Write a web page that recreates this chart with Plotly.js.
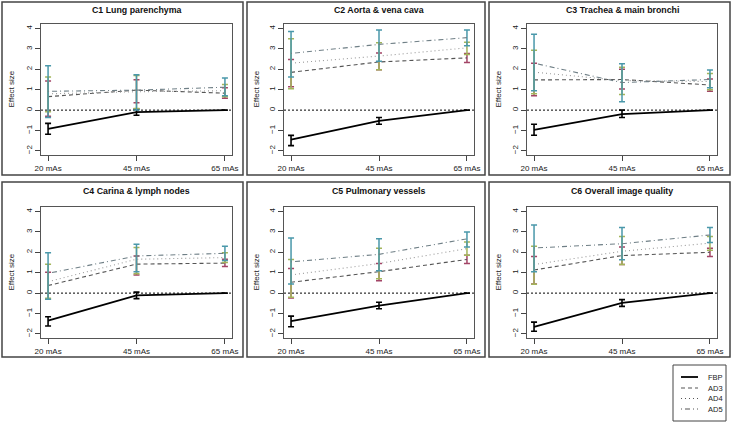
<!DOCTYPE html>
<html>
<head>
<meta charset="utf-8">
<script src="https://cdn.plot.ly/plotly-3.0.1.min.js"></script>
<style>html,body{margin:0;padding:0;background:#fff;}#chart{width:732px;height:424px;}</style>
</head>
<body>
<div id="chart"></div>
<script>
// ---- data ----
var panelTitles = ["C1 Lung parenchyma", "C2 Aorta & vena cava", "C3 Trachea & main bronchi",
                   "C4 Carina & lymph nodes", "C5 Pulmonary vessels", "C6 Overall image quality"];
var doseLabels = ["20 mAs", "45 mAs", "65 mAs"];
var seriesNames = ["FBP", "AD3", "AD4", "AD5"];
var yTicks = [-2, -1, 0, 1, 2, 3, 4];

var fbpMean = [[-0.92,-0.10,0],[-1.45,-0.53,0],[-0.97,-0.20,0],[-1.35,-0.11,0],[-1.37,-0.61,0],[-1.66,-0.48,0]];
var fbpLow  = [[-1.18,-0.25,null],[-1.74,-0.69,null],[-1.23,-0.36,null],[-1.61,-0.27,null],[-1.65,-0.77,null],[-1.87,-0.65,null]];
var fbpHigh = [[-0.65,0.05,null],[-1.24,-0.36,null],[-0.69,0.00,null],[-1.16,0.05,null],[-1.13,-0.45,null],[-1.42,-0.32,null]];

var ad3Mean = [[0.66,0.98,0.83],[1.85,2.36,2.56],[1.48,1.50,1.23],[0.37,1.42,1.47],[0.53,1.05,1.65],[1.13,1.84,2.00]];
var ad3Low  = [[-0.30,0.36,0.58],[1.15,1.98,2.33],[0.70,1.04,0.92],[-0.30,0.89,1.30],[-0.24,0.60,1.45],[0.45,1.40,1.80]];
var ad3High = [[1.43,1.49,1.10],[2.48,2.80,2.78],[2.30,2.00,1.53],[1.02,1.82,1.66],[1.20,1.45,1.85],[1.80,2.26,2.20]];

var ad4Mean = [[0.80,0.90,0.95],[2.30,2.65,3.05],[1.86,1.45,1.40],[0.56,1.66,1.74],[0.89,1.45,2.18],[1.40,2.05,2.45]];
var ad4Low  = [[-0.08,0.08,0.66],[1.05,1.98,2.73],[0.80,0.76,1.00],[-0.25,0.95,1.50],[-0.20,0.70,1.85],[0.44,1.40,2.10]];
var ad4High = [[1.62,1.70,1.25],[3.50,3.30,3.33],[2.93,2.10,1.80],[1.42,2.23,1.98],[1.65,2.20,2.50],[2.30,2.77,2.77]];

var ad5Mean = [[0.92,0.98,1.12],[2.78,3.22,3.55],[2.30,1.35,1.50],[0.97,1.82,1.95],[1.53,1.90,2.66],[2.21,2.42,2.85]];
var ad5Low  = [[-0.36,0.00,0.70],[1.62,2.40,3.15],[0.95,0.41,1.10],[-0.30,1.05,1.60],[0.45,1.10,2.26],[1.05,1.64,2.48]];
var ad5High = [[2.18,1.73,1.57],[3.85,3.93,3.93],[3.72,2.27,1.97],[1.98,2.40,2.30],[2.70,2.66,3.00],[3.34,3.22,3.22]];

// ---- styling ----
var W = 732, H = 424;
var colPx = [[41,232],[284,474],[527,717]];
var rowPx = [[24,155],[207,338]];
var boxColPx = [[2,243],[247,485],[489,730]];
var boxRowPx = [[2,175],[182,357]];
var titleY = [10, 191];

var styles = [
  {mean: fbpMean, low: fbpLow, high: fbpHigh, line: {color:'#000000', width:1.8, dash:'solid'}, err:'#000000'},
  {mean: ad3Mean, low: ad3Low, high: ad3High, line: {color:'#555555', width:1.1, dash:'4px,3px'}, err:'#a24466'},
  {mean: ad4Mean, low: ad4Low, high: ad4High, line: {color:'#9a9a9a', width:1.1, dash:'1px,3px'}, err:'#a3b55a'},
  {mean: ad5Mean, low: ad5Low, high: ad5High, line: {color:'#6f7f86', width:1.1, dash:'1px,3px,5px,3px'}, err:'#4a98aa'}
];

var xVals = [1, 2, 3];
var traces = [];
var layout = {
  width: W, height: H,
  margin: {l:0, r:0, t:0, b:0},
  paper_bgcolor: '#ffffff', plot_bgcolor: '#ffffff',
  font: {family: 'Liberation Sans, Arial, sans-serif', color: '#222'},
  showlegend: false,
  shapes: [], annotations: []
};

for (var p = 0; p < 6; p++) {
  var r = Math.floor(p / 3), c = p % 3;
  var ax = p + 1;
  var xa = 'xaxis' + (ax === 1 ? '' : ax), ya = 'yaxis' + (ax === 1 ? '' : ax);
  var xr = 'x' + (ax === 1 ? '' : ax), yr = 'y' + (ax === 1 ? '' : ax);

  layout[xa] = {
    domain: [colPx[c][0]/W, colPx[c][1]/W], anchor: yr,
    range: [0.92, 3.08], tickvals: xVals, ticktext: doseLabels,
    ticks: 'outside', ticklen: 5, tickcolor: '#444', tickwidth: 1,
    showline: true, mirror: true, linecolor: '#555', linewidth: 1,
    showgrid: false, zeroline: false, fixedrange: true,
    tickfont: {size: 8, color: '#222'}
  };
  layout[ya] = {
    domain: [1 - rowPx[r][1]/H, 1 - rowPx[r][0]/H], anchor: xr,
    range: [-2.2, 4.22], tickvals: yTicks, tickangle: -90,
    ticks: 'outside', ticklen: 5, tickcolor: '#444', tickwidth: 1,
    showline: true, mirror: true, linecolor: '#555', linewidth: 1,
    showgrid: false, zeroline: false, fixedrange: true,
    tickfont: {size: 8, color: '#222'}
  };

  layout.shapes.push({type:'line', xref: xr + ' domain', yref: yr, x0:0, x1:1, y0:0, y1:0,
    line:{color:'#000', width:1, dash:'2px,2px'}, layer:'below'});
  layout.shapes.push({type:'rect', xref:'paper', yref:'paper',
    x0: boxColPx[c][0]/W, x1: boxColPx[c][1]/W, y0: 1 - boxRowPx[r][1]/H, y1: 1 - boxRowPx[r][0]/H,
    line:{color:'#444', width:1.5}});
  layout.annotations.push({xref:'paper', yref:'paper', x:(colPx[c][0]+colPx[c][1])/2/W, y:1 - titleY[r]/H,
    xanchor:'center', yanchor:'middle', showarrow:false, text:'<b>' + panelTitles[p] + '</b>',
    font:{size:8.8, color:'#111'}});
  layout.annotations.push({xref:'paper', yref:'paper', x:(boxColPx[c][0]+9)/W, y:1 - (rowPx[r][0]+rowPx[r][1])/2/H,
    xanchor:'center', yanchor:'middle', showarrow:false, text:'Effect size', textangle:-90,
    font:{size:8, color:'#222'}});

  for (var s = 0; s < 4; s++) {
    var st = styles[s];
    var m = st.mean[p], lo = st.low[p], hi = st.high[p];
    var plus = [], minus = [];
    for (var i = 0; i < 3; i++) {
      plus.push(hi[i] === null ? null : hi[i] - m[i]);
      minus.push(lo[i] === null ? null : m[i] - lo[i]);
    }
    traces.push({
      type: 'scatter', mode: 'lines', x: xVals, y: m, xaxis: xr, yaxis: yr,
      name: seriesNames[s], showlegend: false,
      line: st.line, hoverinfo: 'skip',
      error_y: {type:'data', symmetric:false, array: plus, arrayminus: minus,
        color: st.err, thickness: s === 0 ? 1.6 : 1.5, width: 3}
    });
  }
}

// ---- legend (drawn as a key box) ----
var legBox = {x0: 673, x1: 726, y0: 365, y1: 421};
var legRowY = [377, 388, 398.5, 409];
layout.shapes.push({type:'rect', xref:'paper', yref:'paper',
  x0: legBox.x0/W, x1: legBox.x1/W, y0: 1 - legBox.y1/H, y1: 1 - legBox.y0/H,
  line:{color:'#444', width:1}, fillcolor:'#fff'});
for (var s2 = 0; s2 < 4; s2++) {
  var lineStyle = styles[s2].line;
  layout.shapes.push({type:'line', xref:'paper', yref:'paper',
    x0: 681/W, x1: 698/W, y0: 1 - legRowY[s2]/H, y1: 1 - legRowY[s2]/H,
    line:{color: s2 === 0 ? '#000' : '#555', width: lineStyle.width, dash: lineStyle.dash}});
  layout.annotations.push({xref:'paper', yref:'paper', x: 706/W, y: 1 - legRowY[s2]/H,
    xanchor:'left', yanchor:'middle', showarrow:false, text: seriesNames[s2],
    font:{size:7.5, color:'#222'}});
}

Plotly.newPlot('chart', traces, layout, {staticPlot: true, displayModeBar: false});
</script>
</body>
</html>
